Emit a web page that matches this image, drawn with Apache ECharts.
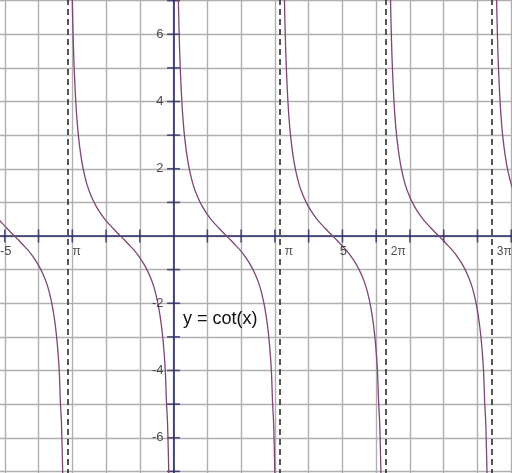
<!DOCTYPE html>
<html>
<head>
<meta charset="utf-8">
<script src="https://cdn.jsdelivr.net/npm/echarts@6/dist/echarts.min.js"></script>
<style>
html,body{margin:0;padding:0;background:#fff;overflow:hidden;width:512px;height:473px;}
#c{position:absolute;left:-29px;top:-33px;width:574px;height:538px;}
</style>
</head>
<body>
<div id="c"></div>
<script>
// Asymptote positions (where each branch starts)
var branchStarts = [-6.2832, -3.1416, 0, 3.1416, 6.2832, 9.4248];
// One branch shape of y = cot(x): offset from branch start and y value
var branchDx = [0.11, 0.125, 0.14, 0.16, 0.18, 0.2, 0.24, 0.28, 0.33, 0.4, 0.48, 0.58, 0.7, 0.85, 1.0, 1.15, 1.3, 1.45, 1.5708, 1.69, 1.84, 1.99, 2.14, 2.29, 2.44, 2.56, 2.66, 2.74, 2.81, 2.86, 2.90, 2.93, 2.96, 2.98, 3.00, 3.0166, 3.0316];
var branchY  = [9.05, 7.96, 7.10, 6.20, 5.50, 4.93, 4.08, 3.46, 2.91, 2.37, 1.92, 1.52, 1.19, 0.88, 0.64, 0.44, 0.28, 0.12, 0, -0.12, -0.28, -0.44, -0.64, -0.88, -1.19, -1.52, -1.92, -2.37, -2.91, -3.46, -4.08, -4.93, -5.50, -6.20, -7.10, -7.96, -9.05];
// Tick labels and tick positions
var xNumLabels = [-5, 5];
var yNumLabels = [-6, -4, -2, 2, 4, 6];
var xTicks = [-5, -4, -3, -2, -1, 1, 2, 3, 4, 5, 6, 7, 8, 9, 10];
var yTicks = [-7, -6, -5, -4, -3, -2, -1, 1, 2, 3, 4, 5, 6, 7];
var piPositions = [-3.1416, 3.1416, 6.2832, 9.4248];
var piLabels = ['π', 'π', '2π', '3π'];
var asymptotes = [-3.1416, 3.1416, 6.2832, 9.4248];
var curveColor = '#7d4676';
var axisColor = '#2a2a66';
var labelFont = {color: '#222', fontSize: 13, fontFamily: 'Liberation Sans'};

var chart = echarts.init(document.getElementById('c'), null, {renderer: 'canvas'});

var series = [];
branchStarts.forEach(function (s, k) {
  var data = branchDx.map(function (d, i) { return [s + d, branchY[i]]; });
  series.push({
    type: 'line', data: data, showSymbol: false, smooth: 0.3, silent: true,
    lineStyle: {color: curveColor, width: 1.3}, z: 5,
    markLine: k === 0 ? {
      silent: true, symbol: 'none', label: {show: false},
      lineStyle: {color: '#2e2e2e', type: [6, 4], width: 1.6},
      data: asymptotes.map(function (a) { return {xAxis: a}; })
    } : undefined
  });
});
// tick marks crossing the axes
series.push({
  type: 'scatter', silent: true, z: 4, symbol: 'rect', symbolSize: [1.6, 13],
  itemStyle: {color: axisColor},
  data: xTicks.map(function (v) { return [v, 0]; })
});
series.push({
  type: 'scatter', silent: true, z: 4, symbol: 'rect', symbolSize: [13, 1.6],
  itemStyle: {color: axisColor},
  data: yTicks.map(function (v) { return [0, v]; })
});
// pi labels beside the asymptotes
series.push({
  type: 'scatter', symbolSize: 0, silent: true, z: 6,
  data: piPositions.map(function (p, i) { return {value: [p, 0], label: {formatter: piLabels[i]}}; }),
  label: Object.assign({show: true, position: 'right', offset: [0, 16]}, labelFont, {fontSize: 12})
});
// numeric x labels
series.push({
  type: 'scatter', symbolSize: 0, silent: true, z: 6,
  data: xNumLabels.map(function (v) { return {value: [v, 0], label: {formatter: String(v)}}; }),
  label: Object.assign({show: true, position: 'bottom', distance: 9, offset: [1, 0]}, labelFont)
});
// numeric y labels
series.push({
  type: 'scatter', symbolSize: 0, silent: true, z: 6,
  data: yNumLabels.map(function (v) { return {value: [0, v], label: {formatter: String(v)}}; }),
  label: Object.assign({show: true, position: 'left', distance: 10}, labelFont)
});

chart.setOption({
  animation: false,
  backgroundColor: '#fff',
  title: {
    text: 'y = cot(x)', left: 207, top: 338,
    textStyle: {fontSize: 18, fontWeight: 'normal', color: '#111', fontFamily: 'Liberation Sans'}
  },
  grid: {left: 0, right: 0, top: 0, bottom: 0, containLabel: false, outerBoundsMode: 'none'},
  xAxis: {
    type: 'value', min: -6, max: 11, interval: 1,
    axisLine: {onZero: true, lineStyle: {color: axisColor, width: 1.6}},
    axisTick: {show: false},
    axisLabel: {show: false},
    splitLine: {show: true, lineStyle: {color: '#b0b0b0', width: 1.4}}
  },
  yAxis: {
    type: 'value', min: -8, max: 8, interval: 1,
    axisLine: {onZero: true, lineStyle: {color: axisColor, width: 1.6}},
    axisTick: {show: false},
    axisLabel: {show: false},
    splitLine: {show: true, lineStyle: {color: '#b0b0b0', width: 1.4}}
  },
  series: series
});
</script>
</body>
</html>
